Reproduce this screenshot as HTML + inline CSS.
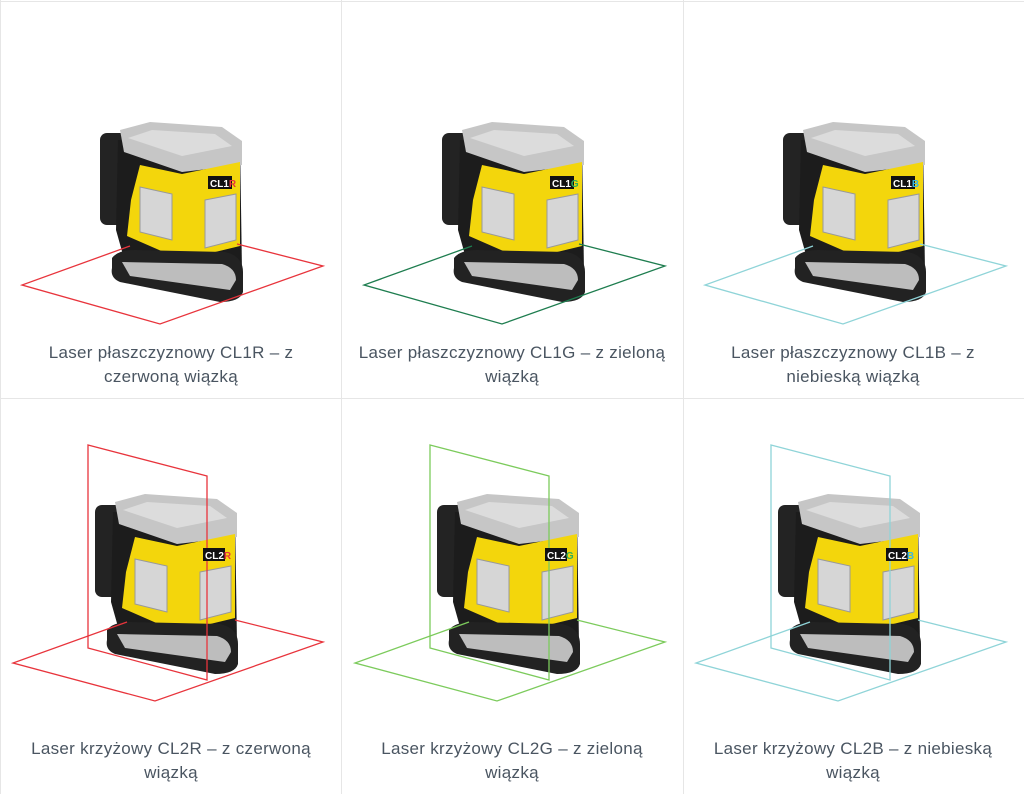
<!DOCTYPE html>
<html><head><meta charset="utf-8"><style>
body{margin:0;background:#fff;width:1024px;height:794px;overflow:hidden;font-family:"Liberation Sans",sans-serif;}
svg{position:absolute;left:0;top:0}
.t{position:absolute;width:320px;text-align:center;font-size:17px;line-height:24px;color:#4a5561;letter-spacing:0.3px;white-space:nowrap}
</style></head><body>
<svg width="1024" height="794" viewBox="0 0 1024 794">
<defs>
<g id="dev">
 <rect x="100" y="133" width="32" height="92" rx="7" fill="#232323"/>
 <path d="M118 140 L240 140 L242 272 L125 262 L116 230 Z" fill="#1c1c1c"/>
 <path d="M120 130 L150 122 L222 127 L242 141 L242 165 L182 172 L124 152 Z" fill="#c6c6c6"/>
 <path d="M128 138 L152 130 L215 134 L232 146 L182 156 Z" fill="#dcdcdc"/>
 <path d="M140 165 L182 174 L240 162 L240 246 L182 260 L127 236 L131 200 Z" fill="#f3d60c"/>
 <path d="M140 187 L172 194 L172 240 L140 232 Z" fill="#d6d6d6" stroke="#999" stroke-width="1"/>
 <path d="M205 200 L236 194 L236 240 L205 248 Z" fill="#d6d6d6" stroke="#999" stroke-width="1"/>
 <path d="M112 258 Q118 250 135 250 L225 252 Q243 256 243 272 L243 292 Q240 302 220 302 L120 282 Q110 278 112 268 Z" fill="#222"/>
 <path d="M122 262 L222 264 Q236 268 236 280 L230 290 L130 276 Z" fill="#bdbdbd"/>
</g>
</defs>
<g stroke="#e6e6e6" stroke-width="1" fill="none">
 <line x1="0" y1="1.5" x2="1024" y2="1.5"/>
 <line x1="341.5" y1="0" x2="341.5" y2="794"/>
 <line x1="683.5" y1="0" x2="683.5" y2="794"/>
 <line x1="0" y1="398.5" x2="1024" y2="398.5"/>
 <line x1="0.5" y1="0" x2="0.5" y2="794"/>
</g>
<g>
 <use href="#dev"/>
 <polyline points="130,246 22,285 160,324 323,266 237,244" fill="none" stroke="#e8343c" stroke-width="1.3"/>
 <rect x="208" y="176" width="24" height="13" fill="#111"/><text x="210" y="187" font-size="10" font-weight="bold" fill="#fff">CL1<tspan fill="#e8343c">R</tspan></text>
</g>
<g transform="translate(342,0)">
 <use href="#dev"/>
 <polyline points="130,246 22,285 160,324 323,266 237,244" fill="none" stroke="#1e7d4f" stroke-width="1.3"/>
 <rect x="208" y="176" width="24" height="13" fill="#111"/><text x="210" y="187" font-size="10" font-weight="bold" fill="#fff">CL1<tspan fill="#2fae5a">G</tspan></text>
</g>
<g transform="translate(683,0)">
 <use href="#dev"/>
 <polyline points="130,246 22,285 160,324 323,266 237,244" fill="none" stroke="#8fd4d8" stroke-width="1.3"/>
 <rect x="208" y="176" width="24" height="13" fill="#111"/><text x="210" y="187" font-size="10" font-weight="bold" fill="#fff">CL1<tspan fill="#3bb5e0">B</tspan></text>
</g>
<g>
 <use href="#dev" transform="translate(-5,372)"/>
 <polyline points="127,622 13,663 155,701 323,642 235,620" fill="none" stroke="#e8343c" stroke-width="1.3"/>
 <polygon points="88,445 207,476 207,680 88,648" fill="none" stroke="#e8343c" stroke-width="1.3"/>
 <rect x="203" y="548" width="22" height="13" fill="#111"/><text x="205" y="559" font-size="10" font-weight="bold" fill="#fff">CL2<tspan fill="#e8343c">R</tspan></text>
</g>
<g transform="translate(342,0)">
 <use href="#dev" transform="translate(-5,372)"/>
 <polyline points="127,622 13,663 155,701 323,642 235,620" fill="none" stroke="#7ccb5c" stroke-width="1.3"/>
 <polygon points="88,445 207,476 207,680 88,648" fill="none" stroke="#7ccb5c" stroke-width="1.3"/>
 <rect x="203" y="548" width="22" height="13" fill="#111"/><text x="205" y="559" font-size="10" font-weight="bold" fill="#fff">CL2<tspan fill="#2fae5a">G</tspan></text>
</g>
<g transform="translate(683,0)">
 <use href="#dev" transform="translate(-5,372)"/>
 <polyline points="127,622 13,663 155,701 323,642 235,620" fill="none" stroke="#8fd4d8" stroke-width="1.3"/>
 <polygon points="88,445 207,476 207,680 88,648" fill="none" stroke="#8fd4d8" stroke-width="1.3"/>
 <rect x="203" y="548" width="22" height="13" fill="#111"/><text x="205" y="559" font-size="10" font-weight="bold" fill="#fff">CL2<tspan fill="#3bb5e0">B</tspan></text>
</g>
</svg>
<div class="t" style="left:11px;top:341px">Laser płaszczyznowy CL1R – z<br>czerwoną wiązką</div>
<div class="t" style="left:352px;top:341px">Laser płaszczyznowy CL1G – z zieloną<br>wiązką</div>
<div class="t" style="left:693px;top:341px">Laser płaszczyznowy CL1B – z<br>niebieską wiązką</div>
<div class="t" style="left:11px;top:737px">Laser krzyżowy CL2R – z czerwoną<br>wiązką</div>
<div class="t" style="left:352px;top:737px">Laser krzyżowy CL2G – z zieloną<br>wiązką</div>
<div class="t" style="left:693px;top:737px">Laser krzyżowy CL2B – z niebieską<br>wiązką</div>
</body></html>
